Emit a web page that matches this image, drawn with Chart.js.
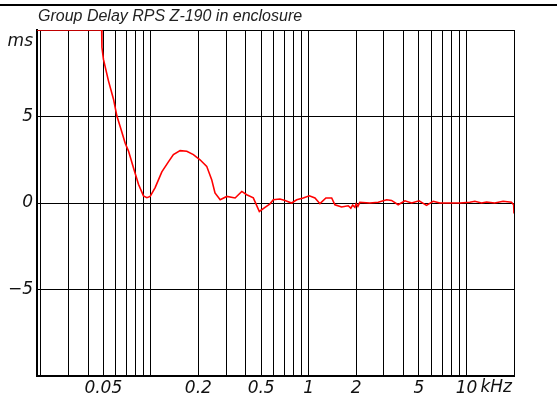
<!DOCTYPE html>
<html>
<head>
<meta charset="utf-8">
<script src="https://cdn.jsdelivr.net/npm/chart.js@4.4.1/dist/chart.umd.min.js"></script>
<style>
  html, body { margin: 0; padding: 0; background: #ffffff; }
  #wrap { width: 557px; height: 395px; }
</style>
</head>
<body>
<div id="wrap"><canvas id="myChart" width="557" height="395"></canvas></div>
<script>
// Group delay (kHz, ms); values above the top edge are held at 10
const freqs = [
    0.019, 0.0488, 0.049, 0.0501, 0.0539, 0.058, 0.0609, 0.0655, 0.0688, 0.0722,
    0.0776, 0.0835, 0.0898, 0.0944, 0.099, 0.1065, 0.1174, 0.1292, 0.139, 0.1533,
    0.169, 0.186, 0.205, 0.226, 0.243, 0.255, 0.275, 0.303, 0.342, 0.377,
    0.405, 0.446, 0.487, 0.529, 0.569, 0.597, 0.658, 0.708, 0.78, 0.84,
    0.924, 1.01, 1.096, 1.179, 1.286, 1.399, 1.467, 1.617, 1.781, 1.85,
    1.9, 1.964, 2.0, 2.05, 2.11, 2.44, 2.76, 3.12, 3.35, 3.69,
    4.07, 4.49, 5.01, 5.58, 6.15, 6.78, 7.84, 9.07, 10.5, 11.3,
    12.45, 13.4, 15.1, 17.06, 19.27, 19.9, 20
];
const delayMs = [
    10, 10, 9.0, 8.3, 7.06, 6.0, 5.04, 4.1, 3.45, 3.0,
    2.04, 1.08, 0.41, 0.31, 0.38, 0.89, 1.8, 2.38, 2.8, 3.03,
    2.99, 2.8, 2.5, 2.12, 1.35, 0.58, 0.19, 0.38, 0.29, 0.67,
    0.48, 0.3, -0.49, -0.25, -0.05, 0.19, 0.23, 0.15, 0.0, 0.19,
    0.29, 0.42, 0.29, -0.04, 0.29, 0.29, -0.1, -0.23, -0.16, -0.3,
    -0.12, -0.25, -0.05, -0.2, 0.04, 0.0, 0.04, 0.19, 0.15, -0.1,
    0.13, 0.0, 0.13, -0.14, 0.1, 0.0, 0.0, 0.0, 0.04, 0.1,
    0.0, 0.06, 0.0, 0.1, 0.04, -0.1, -0.6
];

// grid lines and labels
const gridFreqs = [
    0.02, 0.03, 0.04, 0.05, 0.06, 0.07, 0.08, 0.09, 0.1,
    0.2, 0.3, 0.4, 0.5, 0.6, 0.7, 0.8, 0.9, 1,
    2, 3, 4, 5, 6, 7, 8, 9, 10, 20
];
const freqLabels = { 0.05: '0.05', 0.2: '0.2', 0.5: '0.5', 1: '1', 2: '2', 5: '5', 10: '10' };
const delayTicks = [-10, -5, 0, 5, 10];
const delayLabels = { '-5': '\u22125', 0: '0', 5: '5' };

const labelFont = { family: 'DejaVu Sans', size: 17, style: 'italic' };

// title, unit labels and the rule across the top
const extraText = {
    id: 'extraText',
    afterDraw(chart) {
        const ctx = chart.ctx;
        const area = chart.chartArea;
        ctx.save();
        ctx.fillStyle = '#000';
        ctx.fillRect(0, 4, chart.width, 2);

        ctx.fillStyle = '#222';
        ctx.font = 'italic 16px "Liberation Sans"';
        ctx.textAlign = 'left';
        ctx.textBaseline = 'middle';
        ctx.fillText('Group Delay RPS Z-190 in enclosure', 38, 17);

        ctx.fillStyle = '#111';
        ctx.font = 'italic 17px "DejaVu Sans"';
        ctx.textAlign = 'right';
        ctx.fillText('ms', area.left - 4, 42);

        const xScale = chart.scales.x;
        const tenX = xScale.getPixelForValue(10);
        ctx.textAlign = 'left';
        ctx.textBaseline = 'top';
        ctx.fillText('kHz', tenX + 14, area.bottom + 3);
        ctx.restore();
    }
};

const ctx = document.getElementById('myChart').getContext('2d');
new Chart(ctx, {
    type: 'line',
    data: {
        datasets: [{
            data: freqs.map((f, i) => ({ x: f, y: delayMs[i] })),
            borderColor: '#ff0000',
            borderWidth: 1.6,
            pointRadius: 0,
            tension: 0,
            fill: false
        }]
    },
    options: {
        responsive: false,
        animation: false,
        events: [],
        layout: { padding: { left: 0, right: 43, top: 30, bottom: 0 } },
        plugins: {
            legend: { display: false },
            tooltip: { enabled: false },
            title: { display: false }
        },
        scales: {
            x: {
                type: 'logarithmic',
                min: 0.019,
                max: 20,
                afterBuildTicks: (axis) => {
                    axis.ticks = gridFreqs.map(v => ({ value: v }));
                },
                afterFit: (axis) => { axis.height = 19; },
                ticks: {
                    autoSkip: false,
                    maxRotation: 0,
                    padding: 2,
                    color: '#111',
                    font: labelFont,
                    callback: (value) => freqLabels[value] || ''
                },
                grid: { color: '#000', lineWidth: 1, drawTicks: false },
                border: { color: '#000', width: 2 }
            },
            y: {
                min: -10,
                max: 10,
                afterBuildTicks: (axis) => {
                    axis.ticks = delayTicks.map(v => ({ value: v }));
                },
                afterFit: (axis) => { axis.width = 37; },
                ticks: {
                    padding: 4,
                    color: '#111',
                    font: labelFont,
                    callback: (value) => delayLabels[value] || ''
                },
                grid: { color: '#000', lineWidth: 1, drawTicks: false },
                border: { color: '#000', width: 2 }
            }
        }
    },
    plugins: [extraText]
});
</script>
</body>
</html>
